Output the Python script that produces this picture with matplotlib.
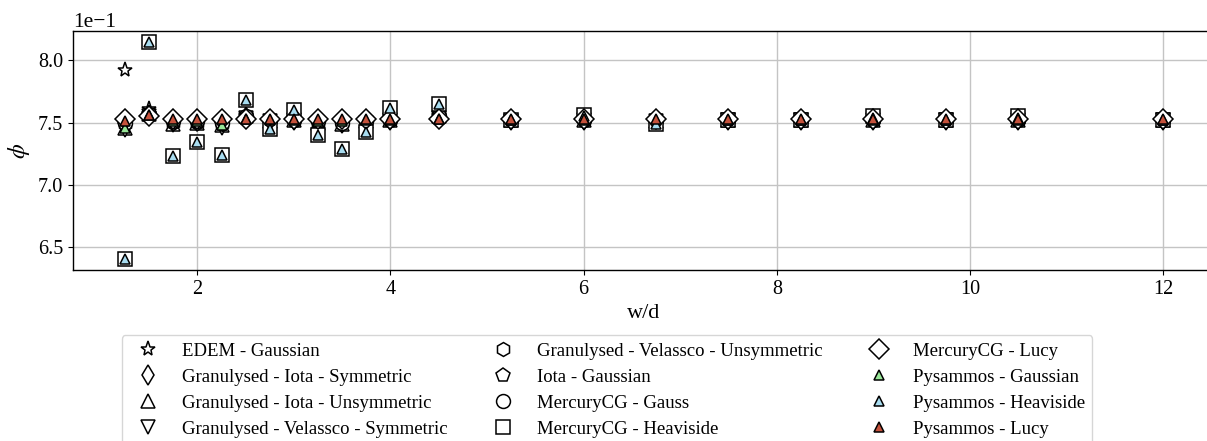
import matplotlib
matplotlib.use("Agg")
import matplotlib.pyplot as plt
from matplotlib.ticker import MultipleLocator

plt.rcParams['font.family'] = 'serif'
plt.rcParams['font.serif'] = ['Liberation Serif', 'DejaVu Serif']
plt.rcParams['mathtext.fontset'] = 'stix'

# ---- data ----
x = [1.25, 1.5, 1.75, 2.0, 2.25, 2.5, 2.75, 3.0, 3.25, 3.5, 3.75, 4.0, 4.5,
     5.25, 6.0, 6.75, 7.5, 8.25, 9.0, 9.75, 10.5, 12.0]

edem_gaussian = [0.792, 0.761, 0.751, 0.751, 0.751, 0.757, 0.752, 0.752, 0.751, 0.751, 0.752,
                 0.753, 0.757, 0.752, 0.753, 0.752, 0.752, 0.752, 0.753, 0.752, 0.753, 0.752]
gran_iota_sym = [0.750, 0.756, 0.751, 0.751, 0.750, 0.754, 0.752, 0.752, 0.751, 0.750, 0.751,
                 0.752, 0.754, 0.752, 0.752, 0.752, 0.752, 0.752, 0.752, 0.752, 0.752, 0.752]
gran_iota_uns = [0.746, 0.757, 0.749, 0.750, 0.748, 0.755, 0.751, 0.752, 0.750, 0.749, 0.751,
                 0.752, 0.755, 0.752, 0.752, 0.751, 0.752, 0.752, 0.752, 0.752, 0.752, 0.752]
gran_vel_sym = [0.744, 0.755, 0.748, 0.749, 0.746, 0.754, 0.751, 0.752, 0.749, 0.748, 0.750,
                0.752, 0.754, 0.751, 0.752, 0.751, 0.752, 0.752, 0.752, 0.752, 0.752, 0.752]
gran_vel_uns = [0.749, 0.756, 0.750, 0.750, 0.749, 0.755, 0.752, 0.752, 0.750, 0.750, 0.751,
                0.752, 0.755, 0.752, 0.752, 0.752, 0.752, 0.752, 0.752, 0.752, 0.752, 0.752]
iota_gaussian = [0.749, 0.757, 0.751, 0.751, 0.749, 0.755, 0.752, 0.752, 0.751, 0.750, 0.751,
                 0.752, 0.755, 0.752, 0.752, 0.752, 0.752, 0.752, 0.752, 0.752, 0.752, 0.752]
merc_gauss = [0.750, 0.757, 0.751, 0.751, 0.750, 0.755, 0.752, 0.752, 0.751, 0.750, 0.751,
              0.752, 0.755, 0.752, 0.752, 0.752, 0.752, 0.752, 0.752, 0.752, 0.752, 0.752]
merc_heaviside = [0.640, 0.815, 0.723, 0.734, 0.724, 0.768, 0.745, 0.760, 0.740, 0.729, 0.742,
                  0.762, 0.765, 0.752, 0.756, 0.749, 0.752, 0.752, 0.755, 0.752, 0.755, 0.752]
merc_lucy = [0.7526, 0.7555, 0.7527, 0.7527, 0.7527, 0.7530, 0.7527, 0.7527, 0.7527, 0.7527,
             0.7527, 0.7527, 0.7530, 0.7527, 0.7527, 0.7527, 0.7527, 0.7527, 0.7527, 0.7527,
             0.7527, 0.7527]
pys_gaussian = [0.746, 0.756, 0.751, 0.751, 0.748, 0.753, 0.752, 0.752, 0.751, 0.751, 0.752,
                0.752, 0.753, 0.752, 0.752, 0.752, 0.752, 0.752, 0.752, 0.752, 0.752, 0.752]
pys_heaviside = [0.640, 0.815, 0.723, 0.734, 0.724, 0.768, 0.745, 0.760, 0.740, 0.729, 0.742,
                 0.762, 0.765, 0.752, 0.755, 0.749, 0.752, 0.752, 0.754, 0.752, 0.754, 0.752]
pys_lucy = [0.7515, 0.7560, 0.7525, 0.7525, 0.7525, 0.7530, 0.7525, 0.7525, 0.7525, 0.7525,
            0.7525, 0.7525, 0.7525, 0.7525, 0.7525, 0.7525, 0.7525, 0.7525, 0.7525, 0.7525,
            0.7525, 0.7525]

labels = ["EDEM - Gaussian", "Granulysed - Iota - Symmetric", "Granulysed - Iota - Unsymmetric",
          "Granulysed - Velassco - Symmetric", "Granulysed - Velassco - Unsymmetric",
          "Iota - Gaussian", "MercuryCG - Gauss", "MercuryCG - Heaviside", "MercuryCG - Lucy",
          "Pysammos - Gaussian", "Pysammos - Heaviside", "Pysammos - Lucy"]
series = [edem_gaussian, gran_iota_sym, gran_iota_uns, gran_vel_sym, gran_vel_uns,
          iota_gaussian, merc_gauss, merc_heaviside, merc_lucy,
          pys_gaussian, pys_heaviside, pys_lucy]
markers = ['*', 'd', '^', 'v', 'h', 'p', 'o', 's', 'D', '^', '^', '^']
msizes = [11, 10.5, 10, 10, 10, 10, 10, 10, 10, 7.5, 7.5, 7.5]
faces = ['white'] * 9 + ['#98e698', '#a8dcf0', '#c5523c']

# ---- figure ----
fig = plt.figure(figsize=(12.07, 4.41), dpi=100)
ax = fig.add_axes([0.0605, 0.3878, 0.9461, 0.5419])

handles = []
for ys, lab, m, ms, fc in zip(series, labels, markers, msizes, faces):
    h, = ax.plot(x, ys, linestyle='none', marker=m, markersize=ms,
                 markerfacecolor=fc, markeredgecolor='black', markeredgewidth=1.1,
                 label=lab)
    handles.append(h)

ax.set_xlim(0.7125, 12.5375)
ax.set_ylim(0.63125, 0.82375)
ax.xaxis.set_major_locator(MultipleLocator(2))
ax.yaxis.set_major_locator(MultipleLocator(0.05))
ax.ticklabel_format(axis='y', style='sci', scilimits=(0, 0))
ax.tick_params(labelsize=14.5)
ax.yaxis.get_offset_text().set_fontsize(15.5)
ax.grid(True, color='#c4c4c4', linewidth=1.0)
ax.set_axisbelow(True)
for sp in ax.spines.values():
    sp.set_linewidth(1.0)

ax.set_xlabel('w/d', fontsize=16)
ax.set_ylabel(r'$\phi$', fontsize=17)

fig.legend(handles=handles, labels=labels, ncol=3, loc='upper center',
           bbox_to_anchor=(607 / 1207, 1 - 335 / 441), borderaxespad=0.0,
           fontsize=13.5, columnspacing=2.0, labelspacing=0.48, frameon=True)

fig.savefig('out.png', dpi=100)
